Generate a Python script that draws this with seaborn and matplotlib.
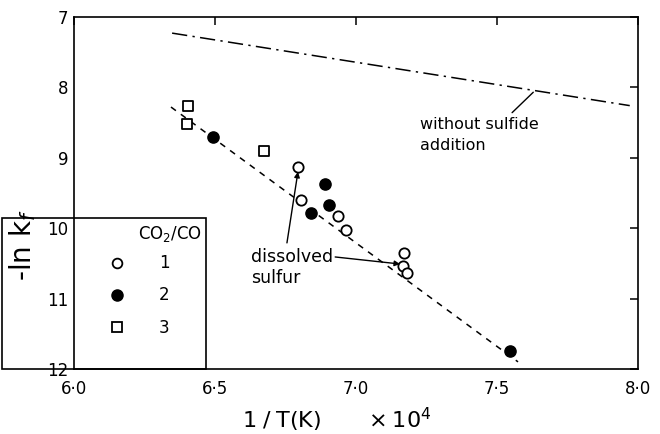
import matplotlib
matplotlib.use('Agg')
import matplotlib.pyplot as plt
import seaborn as sns
from matplotlib.patches import Rectangle
from matplotlib.lines import Line2D

# data (x = 1/T * 1e4, y = -ln kf)
ratio1_x = [6.794, 6.805, 6.936, 6.965, 7.170, 7.167, 7.180]
ratio1_y = [9.13, 9.60, 9.83, 10.03, 10.35, 10.54, 10.64]
ratio2_x = [6.493, 6.890, 6.904, 6.840, 7.546]
ratio2_y = [8.70, 9.37, 9.67, 9.78, 11.74]
ratio3_x = [6.404, 6.400, 6.674]
ratio3_y = [8.26, 8.52, 8.90]

fit_x = [6.344, 7.574]
fit_y = [8.28, 11.90]
nosulf_x = [6.348, 7.970]
nosulf_y = [7.23, 8.26]

xticks = [6.0, 6.5, 7.0, 7.5, 8.0]
xticklabels = ['6·0', '6·5', '7·0', '7·5', '8·0']
yticks = [7, 8, 9, 10, 11, 12]

sns.set_theme(style='white')
plt.rcParams['font.family'] = ['DejaVu Sans']
plt.rcParams['text.color'] = 'black'
plt.rcParams['axes.labelcolor'] = 'black'

fig = plt.figure(figsize=(6.6, 4.34), dpi=100)
ax = fig.add_axes([0.112, 0.150, 0.855, 0.811])

sns.lineplot(x=fit_x, y=fit_y, ax=ax, color='black', lw=1.1, linestyle=(0, (4, 4)))
sns.lineplot(x=nosulf_x, y=nosulf_y, ax=ax, color='black', lw=1.1,
             linestyle=(0, (10, 3.5, 1.5, 3.5)))

sns.scatterplot(x=ratio1_x, y=ratio1_y, ax=ax, marker='o', s=55,
                facecolor='white', edgecolor='black', linewidth=1.3, zorder=3)
sns.scatterplot(x=ratio2_x, y=ratio2_y, ax=ax, marker='o', s=65,
                facecolor='black', edgecolor='black', linewidth=1.0, zorder=3)
sns.scatterplot(x=ratio3_x, y=ratio3_y, ax=ax, marker='s', s=50,
                facecolor='white', edgecolor='black', linewidth=1.3, zorder=3)

ax.set_xlim(6.0, 8.0)
ax.set_ylim(12, 7)
ax.set_xticks(xticks)
ax.set_xticklabels(xticklabels)
ax.set_yticks(yticks)
ax.tick_params(direction='in', length=6, width=1.1, labelsize=12, colors='black',
               top=True, right=True)
ax.tick_params(axis='x', pad=8)
ax.tick_params(axis='y', pad=4)
for s in ax.spines.values():
    s.set_color('black')
    s.set_linewidth(1.2)

ax.set_ylabel(r'-ln k$_f$', fontsize=20)
ax.yaxis.set_label_coords(-0.063, 0.352)
ax.set_xlabel(r'1$\;/\;$T(K)$\qquad\times10^4$', fontsize=16)
ax.xaxis.set_label_coords(0.466, -0.105)

# annotations
ax.text(7.227, 8.68, 'without sulfide\naddition', fontsize=11.5, ha='left',
        va='center', linespacing=1.45)
ax.annotate('', xy=(7.628, 8.07), xytext=(7.553, 8.36),
            arrowprops=dict(arrowstyle='-', color='black', lw=1.0,
                            shrinkA=0, shrinkB=0))
ax.text(6.628, 10.56, 'dissolved\nsulfur', fontsize=12.5, ha='left',
        va='center', linespacing=1.2)
ax.annotate('', xy=(6.794, 9.20), xytext=(6.755, 10.21),
            arrowprops=dict(arrowstyle='-|>', color='black', lw=1.0, mutation_scale=8,
                            shrinkA=0, shrinkB=0))
ax.annotate('', xy=(7.156, 10.51), xytext=(6.926, 10.41),
            arrowprops=dict(arrowstyle='-|>', color='black', lw=1.0, mutation_scale=8,
                            shrinkA=0, shrinkB=0))

# legend box extending past the left of the axes
fig.patches.append(Rectangle((0.003, 0.150), 0.309, 0.348, transform=fig.transFigure,
                             fill=False, edgecolor='black', lw=1.2, zorder=5))
fig.text(0.258, 1 - 234 / 434, r'CO$_2$/CO', fontsize=12, ha='center', va='center')
handles = [
    Line2D([], [], marker='o', ls='none', ms=7, mfc='white', mec='black', mew=1.3),
    Line2D([], [], marker='o', ls='none', ms=8, mfc='black', mec='black'),
    Line2D([], [], marker='s', ls='none', ms=6.5, mfc='white', mec='black', mew=1.3),
]
leg = fig.legend(handles, ['1', '2', '3'], frameon=False,
                 loc='upper left', bbox_to_anchor=(0.140, 1 - 246 / 434), fontsize=12,
                 labelspacing=0.85, handletextpad=1.5, borderpad=0.0)

fig.savefig('out.png', dpi=100)
